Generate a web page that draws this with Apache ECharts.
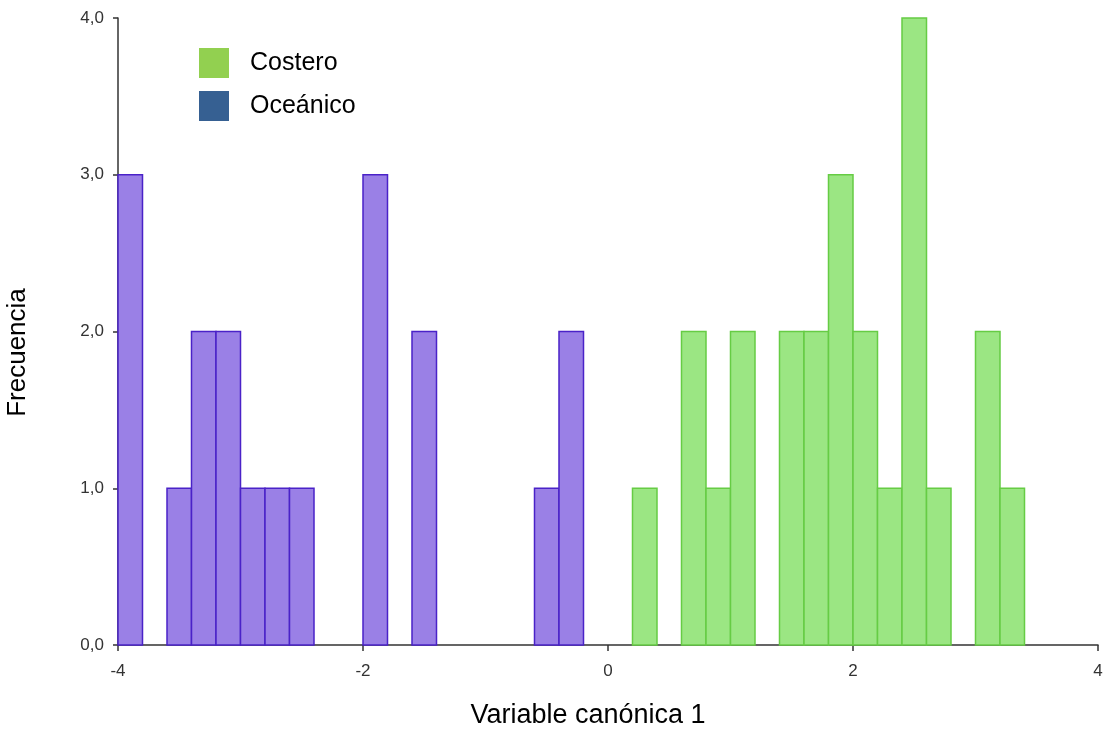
<!DOCTYPE html>
<html><head><meta charset="utf-8">
<script src="https://cdn.jsdelivr.net/npm/echarts@6/dist/echarts.min.js"></script>
<style>html,body{margin:0;padding:0;background:#fff}#c{width:1104px;height:729px}</style>
</head><body><div id="c"></div>
<script>
const binWidth = 0.2;
const oceanicoBins = [-4.0, -3.6, -3.4, -3.2, -3.0, -2.8, -2.6, -2.0, -1.6, -0.6, -0.4];
const oceanicoFreq = [3, 1, 2, 2, 1, 1, 1, 3, 2, 1, 2];
const costeroBins = [0.2, 0.6, 0.8, 1.0, 1.4, 1.6, 1.8, 2.0, 2.2, 2.4, 2.6, 3.0, 3.2];
const costeroFreq = [1, 2, 1, 2, 2, 2, 3, 2, 1, 4, 1, 2, 1];
const xTicks = [-4, -2, 0, 2, 4];
const yTicks = [0, 1, 2, 3, 4];

const chart = echarts.init(document.getElementById('c'));
function render(fill, stroke) {
  return function (params, api) {
    const x0 = api.value(0), x1 = api.value(1), f = api.value(2);
    const p0 = api.coord([x0, 0]);
    const p1 = api.coord([x1, f]);
    return {
      type: 'rect',
      shape: { x: p0[0], y: p1[1], width: p1[0] - p0[0], height: p0[1] - p1[1] },
      style: { fill: fill, stroke: stroke, lineWidth: 1.5 }
    };
  };
}
const mk = (bins, freq) => bins.map((b, i) => [b, +(b + binWidth).toFixed(2), freq[i]]);
const font = 'Arial, "Liberation Sans", sans-serif';
const narrow = '"Liberation Sans Narrow", "Arial Narrow", Arial, sans-serif';
chart.setOption({
  animation: false,
  grid: { left: 118, right: 6, top: 18, bottom: 84, outerBoundsMode: 'none', containLabel: false },
  legend: {
    orient: 'vertical', left: 194, top: 43, itemWidth: 30, itemHeight: 30, itemGap: 13,
    icon: 'rect',
    textStyle: { fontSize: 25, color: '#000', fontFamily: font, padding: [3, 0, 0, 16] },
    data: [
      { name: 'Costero', itemStyle: { color: '#92d050' } },
      { name: 'Oceánico', itemStyle: { color: '#366092' } }
    ]
  },
  xAxis: {
    type: 'value', min: -4, max: 4, interval: 2,
    name: 'Variable canónica 1', nameLocation: 'middle', nameGap: 57,
    nameTextStyle: { fontSize: 27, color: '#000', fontFamily: font, padding: [0, 40, 0, 0] },
    axisLine: { show: true, onZero: false, lineStyle: { color: '#333', width: 1.5 } },
    axisTick: { show: true, length: 6, lineStyle: { color: '#333', width: 1.5 } },
    axisLabel: { fontSize: 17, color: '#333', fontFamily: narrow, margin: 18,
      formatter: v => xTicks.includes(v) ? String(v) : '' },
    splitLine: { show: false }
  },
  yAxis: {
    type: 'value', min: 0, max: 4, interval: 1,
    name: 'Frecuencia', nameLocation: 'middle', nameGap: 87, nameRotate: 90,
    nameTextStyle: { fontSize: 26, color: '#000', fontFamily: font, padding: [0, 42, 0, 0] },
    axisLine: { show: true, onZero: false, lineStyle: { color: '#333', width: 1.5 } },
    axisTick: { show: true, length: 5, lineStyle: { color: '#333', width: 1.5 } },
    axisLabel: { fontSize: 17, color: '#333', fontFamily: narrow, margin: 14,
      formatter: v => yTicks.includes(v) ? v.toFixed(1).replace('.', ',') : '' },
    splitLine: { show: false }
  },
  series: [
    { name: 'Costero', type: 'custom', renderItem: render('#9be683', '#66cc44'),
      encode: { x: [0, 1], y: 2 }, data: mk(costeroBins, costeroFreq), z: 1 },
    { name: 'Oceánico', type: 'custom', renderItem: render('#9a80e6', '#4a22c8'),
      encode: { x: [0, 1], y: 2 }, data: mk(oceanicoBins, oceanicoFreq), z: 1 }
  ]
});
</script></body></html>
